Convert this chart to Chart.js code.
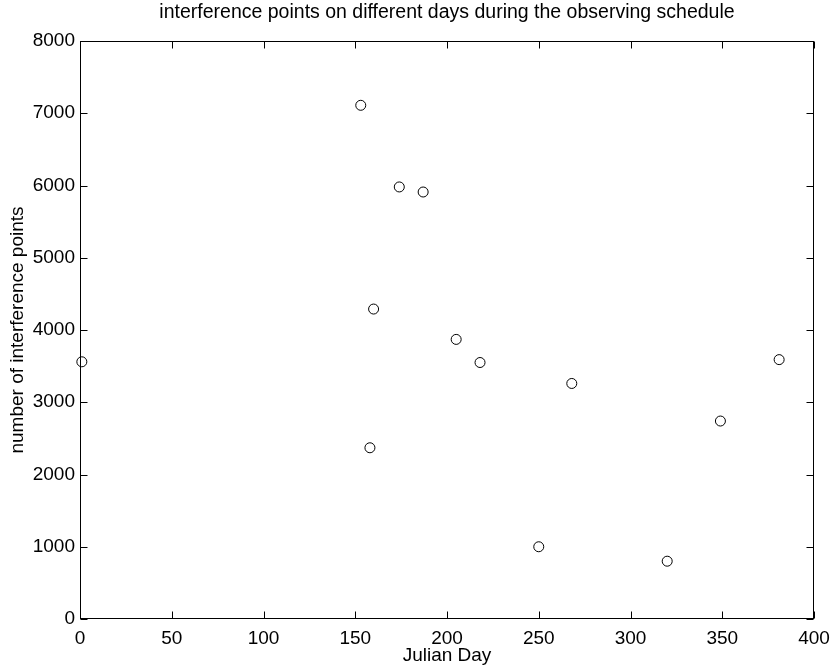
<!DOCTYPE html>
<html>
<head>
<meta charset="utf-8">
<script src="https://cdn.jsdelivr.net/npm/chart.js@4/dist/chart.umd.min.js"></script>
<style>
  html, body { margin: 0; padding: 0; background: #fff; }
  #wrap { width: 833px; height: 667px; }
</style>
</head>
<body>
<div id="wrap"><canvas id="chart" width="833" height="667"></canvas></div>
<script>
// values
const julianDays = [1, 153, 174, 187, 160, 205, 218, 158, 250, 268, 320, 349, 381];
const interferencePoints = [3560, 7110, 5980, 5910, 4290, 3870, 3550, 2370, 1000, 3260, 800, 2740, 3590];
const xTicks = [0, 50, 100, 150, 200, 250, 300, 350, 400];
const yTicks = [0, 1000, 2000, 3000, 4000, 5000, 6000, 7000, 8000];

const FONT = "'Liberation Sans', Arial, Helvetica, sans-serif";

// matlab style box with inward ticks on all four sides
const boxFrame = {
    id: 'boxFrame',
    beforeDatasetsDraw(chart) {
        const { ctx, chartArea: a, scales: { x, y } } = chart;
        const L = Math.round(a.left) + 0.5, R = Math.round(a.right) - 0.5;
        const T = Math.round(a.top) + 0.5, B = Math.round(a.bottom) - 0.5;
        const len = 7;
        ctx.save();
        ctx.strokeStyle = '#000';
        ctx.lineWidth = 1;
        ctx.strokeRect(L, T, R - L, B - T);
        ctx.beginPath();
        x.ticks.forEach(t => {
            const px = Math.round(x.getPixelForValue(t.value)) + 0.5;
            ctx.moveTo(px, B); ctx.lineTo(px, B - len);
            ctx.moveTo(px, T); ctx.lineTo(px, T + len);
        });
        y.ticks.forEach(t => {
            const py = Math.round(y.getPixelForValue(t.value)) + 0.5;
            ctx.moveTo(L, py); ctx.lineTo(L + len, py);
            ctx.moveTo(R, py); ctx.lineTo(R - len, py);
        });
        ctx.stroke();
        ctx.restore();
    }
};

new Chart(document.getElementById('chart'), {
    type: 'scatter',
    data: {
        datasets: [{
            data: julianDays.map((d, i) => ({ x: d, y: interferencePoints[i] })),
            pointStyle: 'circle',
            pointRadius: 5,
            pointHoverRadius: 5,
            pointBorderWidth: 1,
            borderColor: '#000',
            backgroundColor: 'rgba(0,0,0,0)',
            clip: false,
        }],
    },
    options: {
        responsive: false,
        animation: false,
        layout: { padding: { left: 0, right: 19, top: 0, bottom: 0 } },
        plugins: {
            legend: { display: false },
            tooltip: { enabled: false },
            title: {
                display: true,
                fullSize: false,
                text: 'interference points on different days during the observing schedule',
                color: '#000',
                font: { family: FONT, size: 19.5, weight: 'normal' },
                padding: { top: 1, bottom: 16.6 },
            },
        },
        scales: {
            x: {
                type: 'linear',
                min: 0,
                max: 400,
                afterBuildTicks: s => { s.ticks = xTicks.map(v => ({ value: v })); },
                afterFit: s => { s.height = 48; s.paddingLeft = 0; s.paddingRight = 0; },
                grid: { display: false, drawTicks: false },
                border: { display: false },
                ticks: {
                    color: '#000',
                    padding: 8,
                    maxRotation: 0,
                    autoSkip: false,
                    callback: v => String(v),
                    font: { family: FONT, size: 19 },
                },
                title: {
                    display: true,
                    text: 'Julian Day',
                    color: '#000',
                    font: { family: FONT, size: 19 },
                    padding: { top: 0, bottom: 0 },
                },
            },
            y: {
                type: 'linear',
                min: 0,
                max: 8000,
                afterBuildTicks: s => { s.ticks = yTicks.map(v => ({ value: v })); },
                afterFit: s => { s.width = 80; s.paddingTop = 0; s.paddingBottom = 0; },
                grid: { display: false, drawTicks: false },
                border: { display: false },
                ticks: {
                    color: '#000',
                    padding: 5,
                    autoSkip: false,
                    callback: v => String(v),
                    font: { family: FONT, size: 19 },
                },
                title: {
                    display: true,
                    text: 'number of interference points',
                    color: '#000',
                    font: { family: FONT, size: 19 },
                    padding: { top: 6, bottom: 0 },
                },
            },
        },
    },
    plugins: [boxFrame],
});
</script>
</body>
</html>
